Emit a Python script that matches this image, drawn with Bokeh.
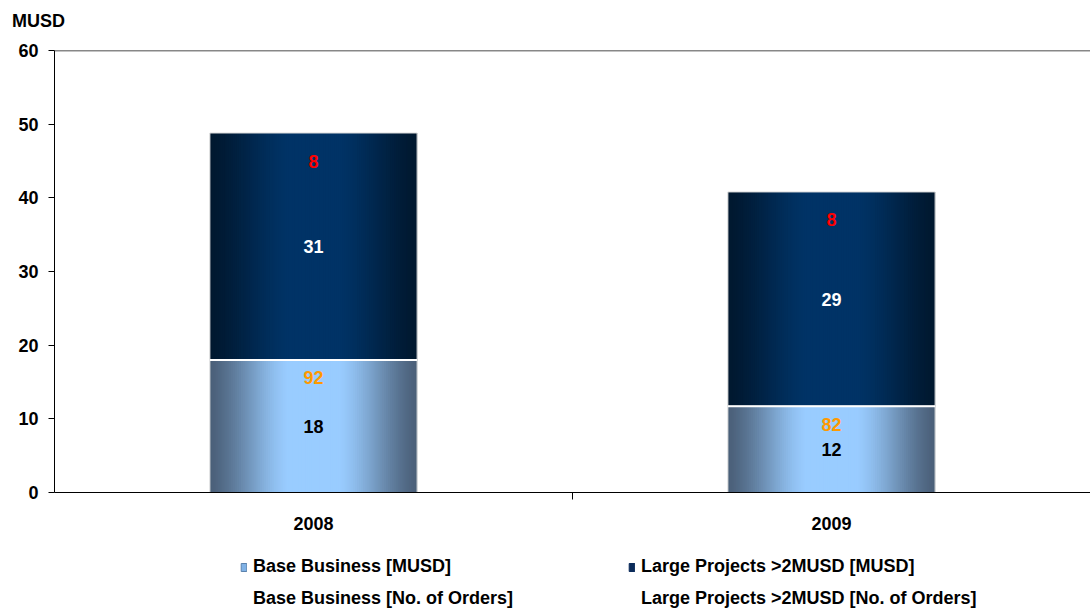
from bokeh.plotting import figure
from bokeh.layouts import column
from bokeh.models import (ColumnDataSource, FixedTicker, Legend, LegendItem, Span, Range1d, Div)
from bokeh.core.properties import value
from bokeh.embed import file_html
from bokeh.resources import INLINE

# ---- data ----
years = ["2008", "2009"]
base_musd = [18.0, 11.7]
large_musd = [30.8, 29.1]
base_orders = [92, 82]
large_orders = [8, 8]
y_ticks = [0, 10, 20, 30, 40, 50, 60]
unit_label = "MUSD"
series_names = ["Base Business [MUSD]", "Base Business [No. of Orders]",
                "Large Projects >2MUSD [MUSD]", "Large Projects >2MUSD [No. of Orders]"]

FONT = "Liberation Sans"
FS = "18px"
BAR_W = 0.40

# unit caption above the value axis
head = Div(text=('<div style="padding:10px 0 0 12px; font-family:\'Liberation Sans\', Arial, sans-serif;'
                 ' font-weight:bold; font-size:18px; line-height:22px; color:black;">%s</div>' % unit_label),
           width=200, height=32, margin=0)

p = figure(width=1090, height=509, output_backend="svg", toolbar_location=None,
           x_range=Range1d(0, len(years)), y_range=Range1d(0, 60),
           min_border_left=54, min_border_right=0, min_border_top=18, min_border_bottom=49)
p.outline_line_color = None
p.grid.visible = False

xs = [i + 0.5 for i in range(len(years))]
tops = [b + l for b, l in zip(base_musd, large_musd)]


def hex2rgb(h):
    h = h.lstrip("#")
    return tuple(int(h[i:i + 2], 16) for i in (0, 2, 4))


def mix(c1, c2, t):
    a, b = hex2rgb(c1), hex2rgb(c2)
    return "#%02x%02x%02x" % tuple(int(round(a[k] + (b[k] - a[k]) * t)) for k in range(3))


# bars with a horizontal gradient, drawn as overlapping thin strips
N = 100
L, R, B, T, C = [], [], [], [], []
segments = [(0, "#4a5f78", "#99ccff"), (1, "#00182f", "#003366")]
for i, xc in enumerate(xs):
    left_edge, right_edge = xc - BAR_W / 2, xc + BAR_W / 2
    step = BAR_W / N
    for seg, edge, center in segments:
        bot = 0 if seg == 0 else base_musd[i]
        top = base_musd[i] if seg == 0 else tops[i]
        for k in range(N):
            u = (k + 0.5) / N
            t = min(1.0, (1 - abs(2 * u - 1)) / 0.75)
            t = t * t * (3 - 2 * t) * 0.5 + t * 0.5
            L.append(left_edge + k * step)
            R.append(min(right_edge, left_edge + (k + 3) * step))
            B.append(bot)
            T.append(top)
            C.append(mix(edge, center, t))
p.quad(left=L, right=R, bottom=B, top=T, fill_color=C, line_color=None)

# outlines
p.vbar(x=xs, top=base_musd, bottom=0, width=BAR_W, fill_color=None, line_color="#dcdcdc", line_width=1)
p.vbar(x=xs, top=tops, bottom=base_musd, width=BAR_W, fill_color=None, line_color="#dcdcdc", line_width=1)
p.segment(x0=[x - BAR_W / 2 for x in xs], x1=[x + BAR_W / 2 for x in xs], y0=base_musd, y1=base_musd,
          line_color="white", line_width=2)

# top frame line
p.add_layout(Span(location=60, dimension="width", line_color="#111111", line_width=1.5))

# data labels
lbl = dict(text_font=value(FONT), text_font_style="bold", text_font_size=FS,
           text_align="center", text_baseline="middle")
src = ColumnDataSource(dict(
    x=xs,
    base_mid=[b / 2 for b in base_musd],
    large_mid=[b + l / 2 for b, l in zip(base_musd, large_musd)],
    base_top=base_musd,
    large_top=tops,
    base_txt=[str(int(round(v))) for v in base_musd],
    large_txt=[str(int(round(v))) for v in large_musd],
    base_ord=[str(v) for v in base_orders],
    large_ord=[str(v) for v in large_orders],
))
p.text(x="x", y="base_mid", text="base_txt", source=src, text_color="black", **lbl)
p.text(x="x", y="large_mid", text="large_txt", source=src, text_color="white", **lbl)
p.text(x="x", y="base_top", text="base_ord", source=src, text_color="#FF9900", y_offset=18, **lbl)
p.text(x="x", y="large_top", text="large_ord", source=src, text_color="#FF0000", y_offset=28, **lbl)

# axes
p.yaxis.ticker = FixedTicker(ticks=y_ticks)
p.yaxis.major_tick_in = 0
p.yaxis.major_tick_out = 6
p.yaxis.minor_tick_line_color = None
p.yaxis.major_label_standoff = 10
p.xaxis.ticker = FixedTicker(ticks=xs, minor_ticks=[i for i in range(1, len(years))])
p.xaxis.major_label_overrides = {x: y for x, y in zip(xs, years)}
p.xaxis.major_tick_line_color = None
p.xaxis.minor_tick_in = 0
p.xaxis.minor_tick_out = 7
p.xaxis.minor_tick_line_color = "black"
p.xaxis.major_label_standoff = 17
for ax in (p.xaxis, p.yaxis):
    ax.axis_line_color = "black"
    ax.major_label_text_font = FONT
    ax.major_label_text_font_style = "bold"
    ax.major_label_text_font_size = FS
    ax.major_label_text_color = "black"

# legend strip below the chart (frames are aligned with the chart above)
p2 = figure(width=1090, height=68, output_backend="svg", toolbar_location=None,
            x_axis_location=None, y_axis_location=None, min_border=0,
            x_range=Range1d(0, 1), y_range=Range1d(0, 1))
p2.outline_line_color = None
p2.grid.visible = False
off = dict(x=[-5], top=[0], width=0.1)
g_base = p2.vbar(fill_color="#80b2e6", line_color="#5b82ad", **off)
g_base_n = p2.vbar(fill_alpha=0, line_alpha=0, **off)
g_large = p2.vbar(fill_color="#0b2b5a", line_color="#0b2b5a", **off)
g_large_n = p2.vbar(fill_alpha=0, line_alpha=0, **off)
leg_style = dict(border_line_color=None, background_fill_alpha=0, padding=0, margin=0,
                 label_text_font=FONT, label_text_font_style="bold", label_text_font_size=FS,
                 label_text_color="black",
                 label_height=20, spacing=11, glyph_width=7, glyph_height=10, label_standoff=6)
leg1 = Legend(items=[LegendItem(label=series_names[0], renderers=[g_base]),
                     LegendItem(label=series_names[1], renderers=[g_base_n])],
              location=(186, 0), **leg_style)
leg2 = Legend(items=[LegendItem(label=series_names[2], renderers=[g_large]),
                     LegendItem(label=series_names[3], renderers=[g_large_n])],
              location=(574, 0), **leg_style)
p2.add_layout(leg1)
p2.add_layout(leg2)

layout = column(head, p, p2, spacing=0)
open("out.html", "w").write(file_html(layout, INLINE))
